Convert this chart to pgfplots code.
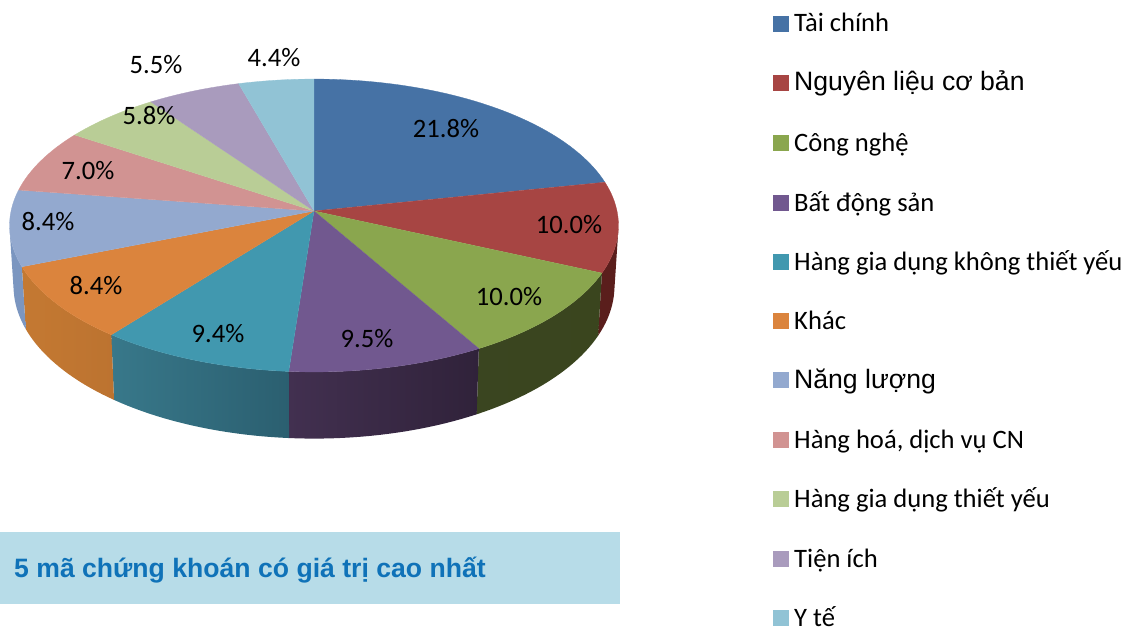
\documentclass[border=0pt]{standalone}
\usepackage{pgfplots}
\usepackage{pgfplotstable}
\usepackage{fontspec}
\pgfplotsset{compat=1.18}
\setmainfont{Carlito}
\newfontfamily\arialf{Liberation Sans}
\definecolor{c0}{HTML}{4672A5}\definecolor{c1}{HTML}{A74543}\definecolor{c2}{HTML}{8AA64E}
\definecolor{c3}{HTML}{71588F}\definecolor{c4}{HTML}{4198AF}\definecolor{c5}{HTML}{DB843D}
\definecolor{c6}{HTML}{93A9CF}\definecolor{c7}{HTML}{D19392}\definecolor{c8}{HTML}{B9CD96}
\definecolor{c9}{HTML}{A99BBD}\definecolor{c10}{HTML}{91C3D5}
\definecolor{wl0}{HTML}{2E4A6B}\definecolor{wr0}{HTML}{2E4A6B}
\definecolor{wl1}{HTML}{5A1E1C}\definecolor{wr1}{HTML}{5A1E1C}
\definecolor{wl2}{HTML}{3A4520}\definecolor{wr2}{HTML}{3A451E}
\definecolor{wl3}{HTML}{423050}\definecolor{wr3}{HTML}{30223A}
\definecolor{wl4}{HTML}{38788A}\definecolor{wr4}{HTML}{2B5F70}
\definecolor{wl5}{HTML}{C47932}\definecolor{wr5}{HTML}{BC7330}
\definecolor{wl6}{HTML}{7B96C0}\definecolor{wr6}{HTML}{7B96C0}
\definecolor{wl7}{HTML}{A06F6E}\definecolor{wr7}{HTML}{A06F6E}
\definecolor{wl8}{HTML}{8A9A70}\definecolor{wr8}{HTML}{8A9A70}
\definecolor{wl9}{HTML}{7F748E}\definecolor{wr9}{HTML}{7F748E}
\definecolor{wl10}{HTML}{6D92A0}\definecolor{wr10}{HTML}{6D92A0}
\definecolor{bannerbg}{HTML}{B7DCE8}
\definecolor{bannertx}{HTML}{0F72B8}
\pgfplotstableread{
value
21.8
10.0
10.0
9.5
9.4
8.4
8.4
7.0
5.8
5.5
4.4
}\slices
\pgfplotstableread[col sep=comma]{
x,y,lab
446,137,21.8\%
569,233,10.0\%
509,305,10.0\%
367,347,9.5\%
218,342,9.4\%
96,294,8.4\%
48,230,8.4\%
88,179,7.0\%
149,124,5.8\%
156,74,5.5\%
274,67,4.4\%
}\labtable
% one point of a rim, in perspective: angle, centre y, a, r, target macro
\def\addpt#1#2#3#4#5{%
  \pgfmathsetmacro\uu{sin(#1)}%
  \pgfmathsetmacro\vv{-cos(#1)}%
  \pgfmathsetmacro\den{1-0.099*\vv}%
  \pgfmathsetmacro\XX{314+#4*\uu/\den}%
  \pgfmathsetmacro\YY{#2+#3*\vv/\den}%
  \xdef#5{#5 (\XX,\YY)}}
% arc from #1 to #2 in n steps
\def\addarc#1#2#3#4#5#6{%
  \pgfmathsetmacro\nst{max(2,int(abs(#2-#1)/1.5))}%
  \pgfmathtruncatemacro\nsti{\nst}%
  \foreach \k in {0,...,\nsti}{%
    \pgfmathsetmacro\aa{#1+(#2-#1)/\nsti*\k}%
    \addpt{\aa}{#3}{#4}{#5}{#6}%
  }}
\gdef\cum{0}
\begin{document}
\begin{tikzpicture}
\path[use as bounding box] (0,0) rectangle (1126bp,628bp);
\begin{axis}[
  at={(0,0)}, anchor=south west,
  scale only axis, width=1126bp, height=628bp,
  xmin=0, xmax=1126, ymin=0, ymax=628, y dir=reverse,
  axis lines=none, ticks=none, clip=true]
\addplot[fill=bannerbg, draw=none] coordinates {(0,532) (620,532) (620,604) (0,604)};
\pgfplotsinvokeforeach{0,...,10}{%
  \pgfplotstablegetelem{#1}{value}\of\slices
  \pgfmathsetmacro\aS{\cum/100.2*360}%
  \pgfmathsetmacro\newcum{\cum+\pgfplotsretval}%
  \xdef\cum{\newcum}%
  \pgfmathsetmacro\aE{\cum/100.2*360}%
  \pgfmathsetmacro\wS{max(\aS,98)}%
  \pgfmathsetmacro\wE{min(\aE,262)}%
  \ifdim\wS pt<\wE pt
    \gdef\wall{}%
    \addarc{\wS}{\wE}{211}{145}{303}{\wall}%
    \addarc{\wE}{\wS}{271}{151}{299}{\wall}%
    \edef\tmp{\noexpand\addplot[left color=wl#1, right color=wr#1, draw=none] coordinates {\wall};}\tmp
  \fi
  \gdef\topc{(314,211)}%
  \addarc{\aS}{\aE}{211}{145}{303}{\topc}%
  \edef\tmp{\noexpand\addplot[fill=c#1, draw=c#1, line width=0.3pt] coordinates {\topc};}\tmp
}
\pgfplotsinvokeforeach{0,...,10}{%
  \pgfplotstablegetelem{#1}{x}\of\labtable \let\lx\pgfplotsretval
  \pgfplotstablegetelem{#1}{y}\of\labtable \let\ly\pgfplotsretval
  \pgfplotstablegetelem{#1}{lab}\of\labtable \let\ll\pgfplotsretval
  \edef\tmp{\noexpand\node[anchor=base, font=\noexpand\fontsize{26.6bp}{28bp}\noexpand\selectfont, text=black, inner sep=0pt] at (axis cs:\lx,\ly) {\ll};}\tmp
}
\node[anchor=base west, inner sep=0pt, text=bannertx, font=\arialf\bfseries\fontsize{26.6bp}{28bp}\selectfont] at (axis cs:14,577) {5 mã chứng khoán có giá trị cao nhất};
% legend
\def\lg#1#2#3#4{%
  \addplot[only marks, mark=square*, mark size=7.5bp, mark options={fill=#3, draw=#3, line width=0pt}] coordinates {(780.5,#1)};
  \node[anchor=base west, inner sep=0pt, yshift=-8bp, text=black, font=#4] at (axis cs:794,#1) {#2};}
\def\fa{\fontsize{26.6bp}{28bp}\selectfont}
\def\fb{\arialf\fontsize{26.6bp}{28bp}\selectfont}
\lg{24}{Tài chính}{c0}{\fa}
\lg{83}{Nguyên liệu cơ bản}{c1}{\fb}
\lg{143}{Công nghệ}{c2}{\fa}
\lg{203}{Bất động sản}{c3}{\fa}
\lg{262}{Hàng gia dụng không thiết yếu}{c4}{\fa}
\lg{321}{Khác}{c5}{\fa}
\lg{380}{Năng lượng}{c6}{\fb}
\lg{440}{Hàng hoá, dịch vụ CN}{c7}{\fa}
\lg{499}{Hàng gia dụng thiết yếu}{c8}{\fa}
\lg{559}{Tiện ích}{c9}{\fa}
\lg{618}{Y tế}{c10}{\fa}
\end{axis}
\end{tikzpicture}
\end{document}
